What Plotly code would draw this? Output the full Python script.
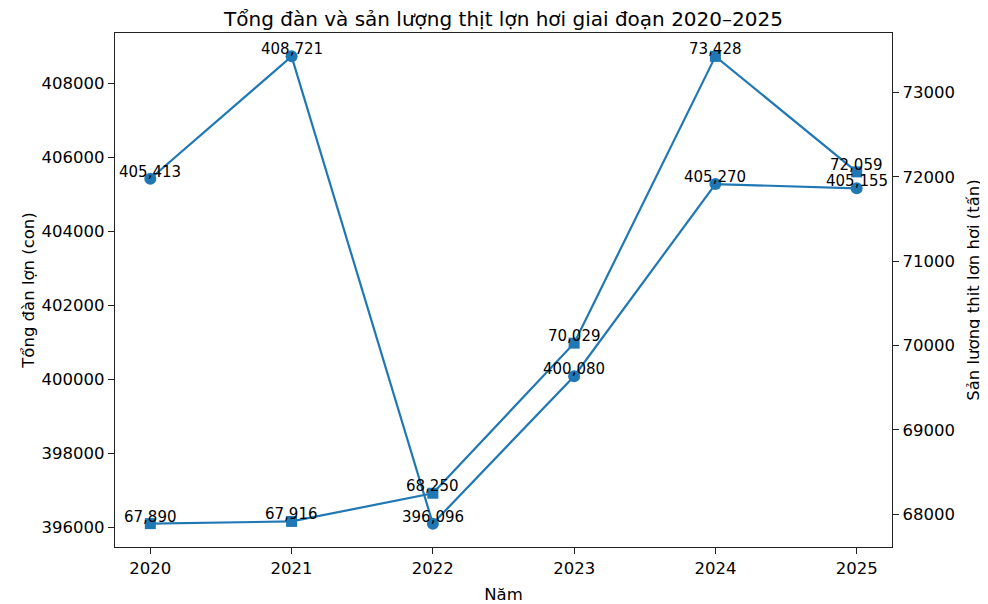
import plotly.graph_objects as go

years = [2020, 2021, 2022, 2023, 2024, 2025]
herd = [405413, 408721, 396096, 400080, 405270, 405155]
meat = [67890, 67916, 68250, 70029, 73428, 72059]

color = "#1f77b4"
font = "DejaVu Sans, Liberation Sans, sans-serif"

fig = go.Figure()
fig.add_trace(go.Scatter(x=years, y=herd, mode="lines+markers", name="Tổng đàn",
                         line=dict(color=color, width=2.2),
                         marker=dict(symbol="circle", size=12, color=color)))
fig.add_trace(go.Scatter(x=years, y=meat, mode="lines+markers", name="Sản lượng",
                         yaxis="y2",
                         line=dict(color=color, width=2.2),
                         marker=dict(symbol="square", size=11, color=color)))

anns = []
for x, v in zip(years, herd):
    anns.append(dict(x=x, y=v, xref="x", yref="y", text=f"{v:,}", showarrow=False,
                     yanchor="bottom", xanchor="center", yshift=-4,
                     font=dict(size=15, color="black", family=font)))
for x, v in zip(years, meat):
    anns.append(dict(x=x, y=v, xref="x", yref="y2", text=f"{v:,}", showarrow=False,
                     yanchor="bottom", xanchor="center", yshift=-4,
                     font=dict(size=15, color="black", family=font)))

axis_common = dict(showgrid=False, zeroline=False, showline=True, linecolor="#222",
                   linewidth=1.4, ticks="outside", ticklen=6, tickcolor="#222",
                   tickwidth=1.2, automargin=False,
                   tickfont=dict(size=16.5, color="black", family=font))

fig.update_layout(
    width=980, height=596,
    paper_bgcolor="white", plot_bgcolor="white",
    margin=dict(l=107, r=96, t=25, b=57),
    showlegend=False,
    font=dict(family=font, color="black"),
    title=dict(text="Tổng đàn và sản lượng thịt lợn hơi giai đoạn 2020–2025",
               x=0.5, xref="paper", xanchor="center", y=1 - 11 / 596, yref="container",
               yanchor="middle", automargin=False,
               font=dict(size=20, color="black", family=font)),
    xaxis=dict(range=[2019.75, 2025.25], tickvals=years, mirror=True,
               title=dict(text="Năm", font=dict(size=16.5), standoff=11), **axis_common),
    yaxis=dict(range=[395465, 409352], tickvals=[396000, 398000, 400000, 402000, 404000, 406000, 408000],
               tickformat="d",
               title=dict(text="Tổng đàn lợn (con)", font=dict(size=16.5), standoff=2), **axis_common),
    yaxis2=dict(range=[67613, 73705], overlaying="y", side="right",
                tickvals=[68000, 69000, 70000, 71000, 72000, 73000], tickformat="d",
                title=dict(text="Sản lượng thịt lợn hơi (tấn)", font=dict(size=16.5), standoff=13),
                **axis_common),
    annotations=anns,
)

fig.write_html("out.html")
